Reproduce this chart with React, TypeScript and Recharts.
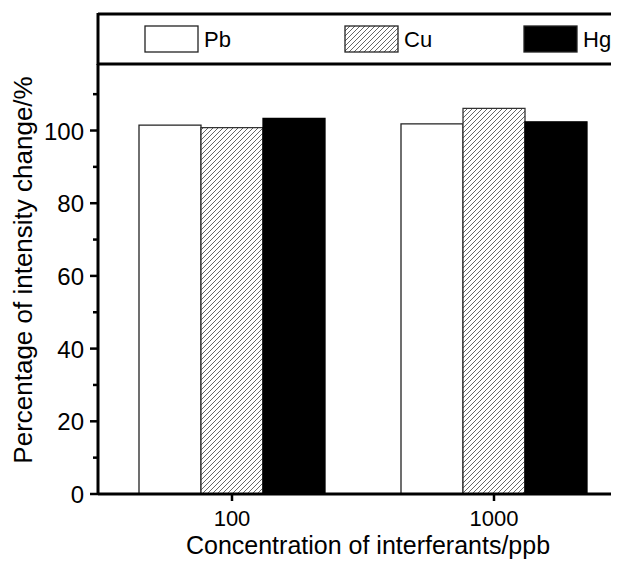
import { BarChart, Bar, XAxis, YAxis, Customized } from "recharts"

const categories = ["100", "1000"]
const pbValues = [101.5, 101.8]
const cuValues = [100.8, 106.1]
const hgValues = [103.3, 102.4]
const yTicks = [0, 10, 20, 30, 40, 50, 60, 70, 80, 90, 100, 110]

const data = categories.map((c, i) => ({ conc: c, Pb: pbValues[i], Cu: cuValues[i], Hg: hgValues[i] }))

const FONT = "'Liberation Sans', Arial, sans-serif"

function YTick(props: any) {
  const { x, y, payload } = props
  const major = payload.value % 20 === 0
  return (
    <g>
      <line x1={x - (major ? 8 : 5)} x2={x} y1={y} y2={y} stroke="#000" strokeWidth={2.5} />
      {major && (
        <text x={x - 14} y={y} dy={9} textAnchor="end" fontSize={24} fontFamily={FONT} fill="#000">
          {payload.value}
        </text>
      )}
    </g>
  )
}

function XTick(props: any) {
  const { x, y, payload } = props
  return (
    <g>
      <line x1={x} x2={x} y1={y} y2={y + 7} stroke="#000" strokeWidth={2.5} />
      <text x={x} y={y + 32} textAnchor="middle" fontSize={22} fontFamily={FONT} fill="#000">
        {payload.value}
      </text>
    </g>
  )
}

function LegendBox() {
  const items = [
    { name: "Pb", x: 137, fill: "#fff" },
    { name: "Cu", x: 337, fill: "url(#hatch)" },
    { name: "Hg", x: 516, fill: "#000" },
  ]
  return (
    <g>
      <line x1={90} x2={700} y1={6} y2={6} stroke="#000" strokeWidth={3} />
      <line x1={90} x2={700} y1={56} y2={56} stroke="#000" strokeWidth={3} />
      <line x1={90} x2={90} y1={5} y2={57} stroke="#000" strokeWidth={3} />
      {items.map((it) => (
        <g key={it.name}>
          <rect x={it.x} y={18} width={53} height={26} fill={it.fill} stroke="#222" strokeWidth={1.3} />
          <text x={it.x + 59} y={39} fontSize={22} fontFamily={FONT} fill="#000">
            {it.name}
          </text>
        </g>
      ))}
    </g>
  )
}

export default function App() {
  return (
    <div style={{ width: 611, height: 553, overflow: "hidden", background: "#fff" }}>
      <BarChart
        width={640}
        height={553}
        data={data}
        margin={{ top: 56, right: 23, left: 0, bottom: 37 }}
        barGap={0}
        barSize={62}
      >
        <defs>
          <pattern id="hatch" patternUnits="userSpaceOnUse" width={5} height={5}>
            <rect width={5} height={5} fill="#fff" />
            <path d="M-1,1 l2,-2 M0,5 l5,-5 M4,6 l2,-2" stroke="#555" strokeWidth={0.9} />
          </pattern>
        </defs>
        <XAxis
          dataKey="conc"
          padding={{ left: 3, right: 0 }}
          axisLine={{ stroke: "#000", strokeWidth: 3 }}
          tickLine={false}
          tickSize={0}
          tickMargin={0}
          tick={<XTick />}
          interval={0}
          label={{
            content: () => (
              <text x={360} y={546} textAnchor="middle" fontSize={25} fontFamily={FONT} fill="#000">
                Concentration of interferants/ppb
              </text>
            ),
          }}
        />
        <YAxis
          width={90}
          domain={[0, 118.3]}
          ticks={yTicks}
          interval={0}
          allowDataOverflow
          axisLine={{ stroke: "#000", strokeWidth: 3 }}
          tickLine={false}
          tickSize={0}
          tickMargin={0}
          tick={<YTick />}
          label={{
            content: () => (
              <text
                x={24}
                y={262}
                transform="rotate(-90 24 262)"
                textAnchor="middle"
                fontSize={26}
                fontFamily={FONT}
                fill="#000"
              >
                Percentage of intensity change/%
              </text>
            ),
          }}
        />
        <Bar dataKey="Pb" fill="#fff" stroke="#222" strokeWidth={1.3} isAnimationActive={false} />
        <Bar dataKey="Cu" fill="url(#hatch)" stroke="#333" strokeWidth={1.3} isAnimationActive={false} />
        <Bar dataKey="Hg" fill="#000" stroke="#000" strokeWidth={1.3} isAnimationActive={false} />
        <Customized component={<LegendBox />} />
      </BarChart>
    </div>
  )
}
